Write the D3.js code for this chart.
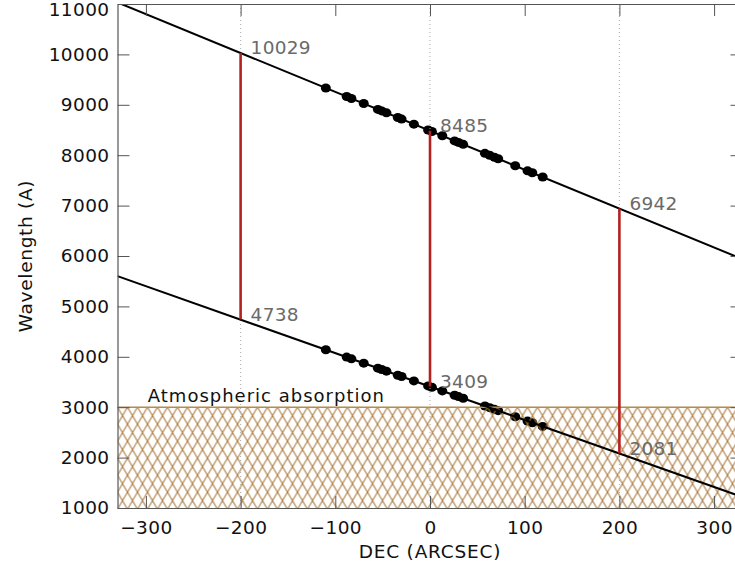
<!DOCTYPE html>
<html><head><meta charset="utf-8">
<script src="https://cdn.jsdelivr.net/npm/d3@7"></script>
<style>body{margin:0;background:#fff} text{font-family:"DejaVu Sans",sans-serif}</style>
</head><body><svg id="c" width="735" height="570"></svg>
<script>
const xDomain = [-330, 330];
const yDomain = [1000, 11000];
const xTicks = [-300, -200, -100, 0, 100, 200, 300];
const yTicks = [1000, 2000, 3000, 4000, 5000, 6000, 7000, 8000, 9000, 10000, 11000];
const decValues = [-110, -88, -83, -70, -55, -51, -46, -34, -30, -17, -2, 2, 13, 26, 30, 35, 58, 63, 68, 72, 90, 103, 108, 119];
const upperWave = [9334, 9164, 9125, 9025, 8909, 8879, 8840, 8747, 8716, 8616, 8500, 8470, 8385, 8284, 8254, 8215, 8037, 7999, 7960, 7929, 7791, 7690, 7652, 7567];
const lowerWave = [4140, 3994, 3960, 3874, 3774, 3748, 3715, 3635, 3608, 3522, 3422, 3396, 3323, 3236, 3210, 3177, 3024, 2991, 2957, 2931, 2811, 2725, 2692, 2619];
const upperLine = [[-330, 11031], [330, 5938]];
const lowerLine = [[-330, 5601], [330, 1217]];
const markDec = [-200, 0, 200];
const markUpper = [10029, 8485, 6942];
const markLower = [4738, 3409, 2081];
const absorption = [1000, 3000];
const absorptionLabel = "Atmospheric absorption";
const xTitle = "DEC (ARCSEC)";
const yTitle = "Wavelength (A)";

const svg = d3.select("#c");
const x = d3.scaleLinear().domain(xDomain).range([117.5, 742.5]);
const y = d3.scaleLinear().domain(yDomain).range([508, 4]);

const defs = svg.append("defs");
defs.append("clipPath").attr("id", "plot").append("rect")
  .attr("x", x(xDomain[0])).attr("y", y(yDomain[1]))
  .attr("width", x(xDomain[1]) - x(xDomain[0])).attr("height", y(yDomain[0]) - y(yDomain[1]));
const pat = defs.append("pattern").attr("id", "hatch").attr("patternUnits", "userSpaceOnUse")
  .attr("width", 10).attr("height", 17).attr("x", x(xDomain[0])).attr("y", y(absorption[1]));
pat.append("path").attr("d", "M0,0L10,17M10,0L0,17M-5,8.5L0,17M5,-8.5L-5,8.5M5,25.5L15,8.5M15,25.5L5,8.5")
  .attr("stroke", "#a9783a").attr("stroke-width", 1.1).attr("fill", "none");

const g = svg.append("g").attr("clip-path", "url(#plot)");

// dots
const dots = g.append("g");
[upperWave, lowerWave].forEach(w => {
  dots.selectAll(null).data(decValues.map((d, i) => [d, w[i]])).enter().append("ellipse")
    .attr("cx", d => x(d[0])).attr("cy", d => y(d[1])).attr("rx", 5).attr("ry", 4.5).attr("fill", "#000");
});

// hatch
g.append("rect").attr("x", x(xDomain[0])).attr("y", y(absorption[1]))
  .attr("width", x(xDomain[1]) - x(xDomain[0])).attr("height", y(absorption[0]) - y(absorption[1]))
  .attr("fill", "url(#hatch)");
g.append("line").attr("x1", x(xDomain[0])).attr("x2", x(xDomain[1]))
  .attr("y1", y(absorption[1])).attr("y2", y(absorption[1])).attr("stroke", "#b88a4c").attr("stroke-width", 1.6);

// dotted verticals
g.selectAll(null).data(markDec).enter().append("line")
  .attr("x1", d => x(d)).attr("x2", d => x(d)).attr("y1", y(yDomain[1])).attr("y2", y(yDomain[0]))
  .attr("stroke", "#aaa").attr("stroke-width", 1).attr("stroke-dasharray", "1,3");

// lines
const line = d3.line().x(d => x(d[0])).y(d => y(d[1]));
[upperLine, lowerLine].forEach(l => {
  g.append("path").attr("d", line(l)).attr("stroke", "#000").attr("stroke-width", 2).attr("fill", "none");
});

// red segments
g.selectAll(null).data(markDec).enter().append("line")
  .attr("x1", d => x(d)).attr("x2", d => x(d))
  .attr("y1", (d, i) => y(markUpper[i])).attr("y2", (d, i) => y(markLower[i]))
  .attr("stroke", "#b3221f").attr("stroke-width", 2.6);

// labels
const lab = svg.append("g").attr("font-size", 18.5).attr("fill", "#6a6a6a").attr("letter-spacing", 0.3);
markDec.forEach((d, i) => {
  lab.append("text").attr("x", x(d) + 10).attr("y", y(markUpper[i]) + 1.5).text(markUpper[i]);
  lab.append("text").attr("x", x(d) + 10).attr("y", y(markLower[i]) + 1.5).text(markLower[i]);
});

svg.append("text").attr("x", x(-298)).attr("y", y(absorption[1]) - 5)
  .attr("font-size", 18).attr("letter-spacing", 1).attr("fill", "#111").text(absorptionLabel);

// axes
const axCol = "#555";
function style(sel) {
  sel.selectAll("path,line").attr("stroke", axCol);
  sel.selectAll("text").attr("font-size", 18.5).attr("fill", "#111").attr("letter-spacing", 0.4)
    .attr("font-family", '"DejaVu Sans",sans-serif');
}
svg.append("g").attr("transform", `translate(0,${y(yDomain[0])})`)
  .call(d3.axisBottom(x).tickValues(xTicks).tickSizeInner(-12).tickSizeOuter(0).tickPadding(13)).call(style);
svg.append("g").attr("transform", `translate(0,${y(yDomain[1])})`)
  .call(d3.axisTop(x).tickValues(xTicks).tickSizeInner(-12).tickSizeOuter(0).tickFormat("")).call(style);
const la = svg.append("g").attr("transform", `translate(${x(xDomain[0])},0)`)
  .call(d3.axisLeft(y).tickValues(yTicks).tickSizeInner(-12).tickSizeOuter(0).tickPadding(8).tickFormat(d3.format("d"))).call(style);
la.selectAll(".tick text").attr("y", function(d){ return Math.max(0, 10 - y(d)); });
svg.append("g").attr("transform", `translate(${x(xDomain[1])},0)`)
  .call(d3.axisRight(y).tickValues(yTicks).tickSizeInner(-12).tickSizeOuter(0).tickFormat("")).call(style);
svg.selectAll(".domain").attr("stroke-width", 1.2);

svg.append("text").attr("x", x(0)).attr("y", 558).attr("text-anchor", "middle")
  .attr("font-size", 18.5).attr("letter-spacing", 0.8).attr("fill", "#111").text(xTitle);
svg.append("text").attr("transform", `translate(32,${(y(yDomain[0]) + y(yDomain[1])) / 2}) rotate(-90)`)
  .attr("text-anchor", "middle").attr("font-size", 18.5).attr("letter-spacing", 0.7).attr("fill", "#111").text(yTitle);
</script></body></html>
